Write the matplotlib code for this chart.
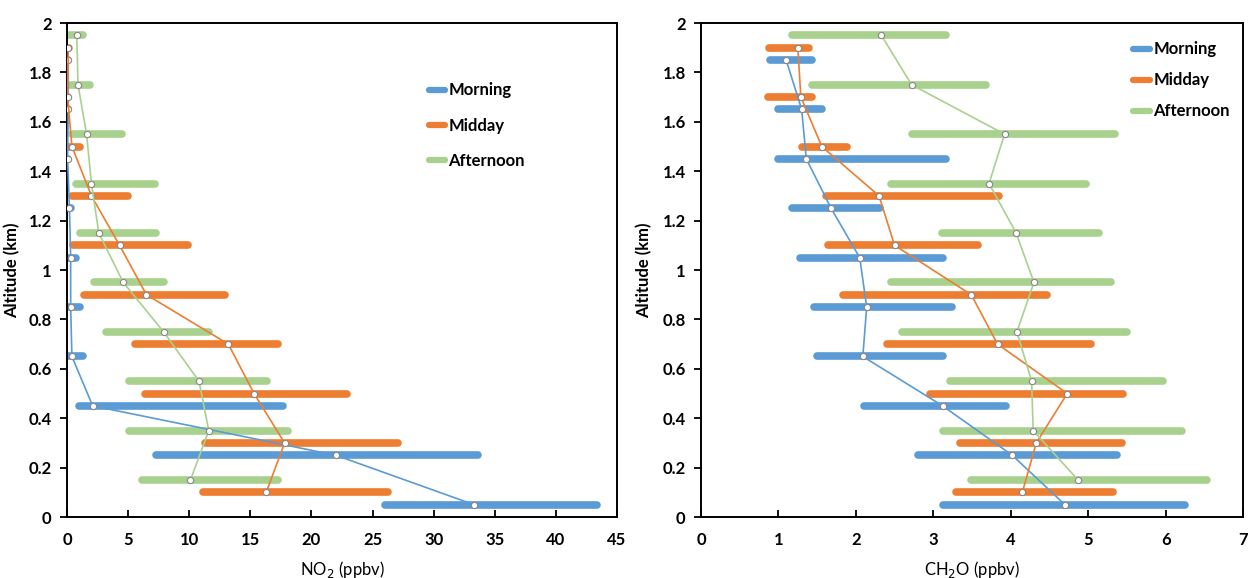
import matplotlib
matplotlib.use('Agg')
import matplotlib.pyplot as plt
from matplotlib.lines import Line2D

plt.rcParams['font.family'] = ['Lato', 'DejaVu Sans']

# altitudes (km) for each time of day
alt_morning = [0.05, 0.25, 0.45, 0.65, 0.85, 1.05, 1.25, 1.45, 1.65, 1.85]
alt_midday = [0.10, 0.30, 0.50, 0.70, 0.90, 1.10, 1.30, 1.50, 1.70, 1.90]
alt_afternoon = [0.15, 0.35, 0.55, 0.75, 0.95, 1.15, 1.35, 1.55, 1.75, 1.95]

# NO2 (ppbv): mean, low, high
no2_morning = [33.3, 22.0, 2.1, 0.4, 0.3, 0.3, 0.2, 0.05, 0.1, 0.1]
no2_morning_lo = [26.0, 7.3, 1.0, 0.0, 0.0, 0.0, 0.0, 0.0, 0.0, 0.0]
no2_morning_hi = [43.4, 33.6, 17.7, 1.3, 1.1, 0.7, 0.3, 0.1, 0.1, 0.1]
no2_midday = [16.3, 17.8, 15.3, 13.2, 6.5, 4.3, 2.0, 0.4, 0.05, 0.1]
no2_midday_lo = [11.1, 11.3, 6.4, 5.6, 1.4, 0.5, 0.4, 0.0, 0.0, 0.0]
no2_midday_hi = [26.3, 27.1, 22.9, 17.3, 12.9, 9.9, 5.0, 1.1, 0.1, 0.2]
no2_afternoon = [10.1, 11.6, 10.8, 7.9, 4.6, 2.6, 2.0, 1.6, 0.9, 0.8]
no2_afternoon_lo = [6.1, 5.1, 5.1, 3.2, 2.2, 1.1, 0.7, 0.4, 0.2, 0.2]
no2_afternoon_hi = [17.3, 18.1, 16.4, 11.6, 7.9, 7.3, 7.2, 4.5, 1.9, 1.3]

# CH2O (ppbv): mean, low, high
ch2o_morning = [4.70, 4.02, 3.12, 2.09, 2.14, 2.05, 1.68, 1.36, 1.30, 1.10]
ch2o_morning_lo = [3.13, 2.80, 2.10, 1.50, 1.46, 1.28, 1.17, 0.99, 0.99, 0.89]
ch2o_morning_hi = [6.25, 5.37, 3.94, 3.13, 3.24, 3.12, 2.31, 3.17, 1.56, 1.43]
ch2o_midday = [4.15, 4.33, 4.73, 3.83, 3.49, 2.50, 2.30, 1.56, 1.29, 1.25]
ch2o_midday_lo = [3.29, 3.34, 2.96, 2.40, 1.84, 1.64, 1.61, 1.30, 0.87, 0.88]
ch2o_midday_hi = [5.32, 5.44, 5.45, 5.04, 4.47, 3.58, 3.85, 1.88, 1.43, 1.39]
ch2o_afternoon = [4.87, 4.29, 4.27, 4.08, 4.30, 4.07, 3.72, 3.92, 2.72, 2.33]
ch2o_afternoon_lo = [3.49, 3.12, 3.22, 2.60, 2.45, 3.11, 2.46, 2.73, 1.43, 1.17]
ch2o_afternoon_hi = [6.53, 6.21, 5.97, 5.50, 5.30, 5.14, 4.97, 5.35, 3.68, 3.17]

labels = ['Morning', 'Midday', 'Afternoon']
bar_colors = ['#5B9BD5', '#ED7D31', '#A9D18E']
line_colors = ['#5B9BD5', '#ED7D31', '#A9D18E']

y_ticks = [0, 0.2, 0.4, 0.6, 0.8, 1, 1.2, 1.4, 1.6, 1.8, 2]
y_ticklabels = ['0', '0.2', '0.4', '0.6', '0.8', '1', '1.2', '1.4', '1.6', '1.8', '2']


def draw_profiles(ax, alts, means, los, his):
    # range bars first, then mean profiles on top
    for alt, lo, hi, c in zip(alts, los, his, bar_colors):
        for a, l, h in zip(alt, lo, hi):
            ax.plot([l, h], [a, a], color=c, lw=5.5, solid_capstyle='round', zorder=2)
    for alt, m, c in zip(alts, means, line_colors):
        ax.plot(m, alt, color=c, lw=1.2, zorder=3,
                marker='o', ms=4.5, mfc='white', mec='#888888', mew=0.8)


def style_axis(ax, xmax, xlabel, ylab_x):
    ax.set_xlim(0, xmax)
    ax.set_ylim(0, 2)
    ax.set_yticks(y_ticks)
    ax.set_yticklabels(y_ticklabels)
    ax.tick_params(axis='x', direction='in', length=5, width=1.3, pad=11, labelsize=12)
    ax.tick_params(axis='y', direction='out', length=5, width=1.3, pad=6, labelsize=12)
    for lab in ax.get_xticklabels() + ax.get_yticklabels():
        lab.set_fontweight('bold')
    for s in ax.spines.values():
        s.set_linewidth(1.4)
        s.set_color('black')
    ax.set_xlabel(xlabel, fontsize=12, labelpad=8)
    ax.set_ylabel('Altitude (km)', fontsize=12, fontweight='bold')
    ax.yaxis.set_label_coords(ylab_x, 0.5)


fig = plt.figure(figsize=(12.48, 5.78), dpi=100)
ax1 = fig.add_axes([0.0537, 0.1055, 0.4407, 0.8547])
ax2 = fig.add_axes([0.5617, 0.1055, 0.4343, 0.8547])

alts = [alt_morning, alt_midday, alt_afternoon]
draw_profiles(ax1, alts, [no2_morning, no2_midday, no2_afternoon],
              [no2_morning_lo, no2_midday_lo, no2_afternoon_lo],
              [no2_morning_hi, no2_midday_hi, no2_afternoon_hi])
draw_profiles(ax2, alts, [ch2o_morning, ch2o_midday, ch2o_afternoon],
              [ch2o_morning_lo, ch2o_midday_lo, ch2o_afternoon_lo],
              [ch2o_morning_hi, ch2o_midday_hi, ch2o_afternoon_hi])

style_axis(ax1, 45, 'NO$_2$ (ppbv)', -0.085)
ax1.set_xticks(range(0, 50, 5))
style_axis(ax2, 7, 'CH$_2$O (ppbv)', -0.089)
ax2.set_xticks(range(0, 8))

handles = [Line2D([0], [0], color=c, lw=4.5, solid_capstyle='round') for c in bar_colors]
leg1 = ax1.legend(handles, labels, loc='upper left', bbox_to_anchor=(0.63, 0.91),
                  frameon=False, handlelength=1.0, handletextpad=0.2,
                  labelspacing=1.15, prop={'size': 12, 'weight': 'bold'})
leg2 = ax2.legend(handles, labels, loc='upper left', bbox_to_anchor=(0.77, 0.993),
                  frameon=False, handlelength=1.0, handletextpad=0.2,
                  labelspacing=0.9, prop={'size': 12, 'weight': 'bold'})

fig.savefig('out.png', dpi=100)
